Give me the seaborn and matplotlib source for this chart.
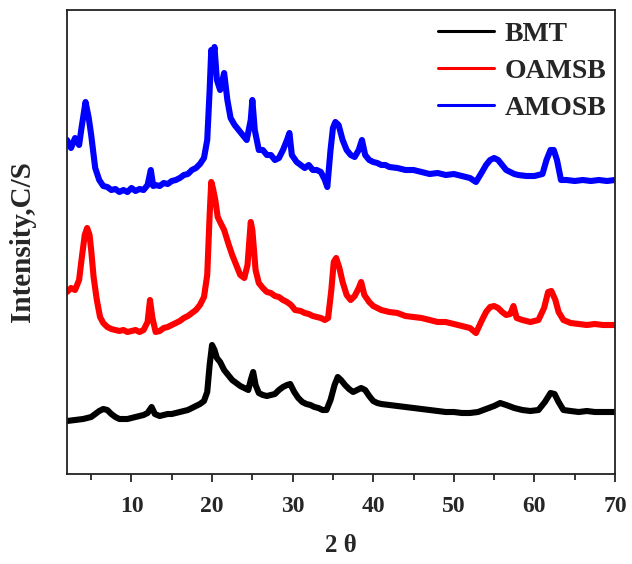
import matplotlib
matplotlib.use("Agg")
import matplotlib.pyplot as plt
import seaborn as sns
import pandas as pd
from matplotlib.ticker import MultipleLocator, NullLocator
from matplotlib.lines import Line2D

# ---- data (intensity in arbitrary units) ----
amosb_x = [2.0, 2.5, 3.0, 3.5, 3.8, 4.3, 4.7, 5.0, 5.5, 6.0, 6.5, 7.0, 7.5, 8.0, 8.5, 9.0, 9.5, 10.0,
           10.5, 11.0, 11.5, 12.0, 12.4, 12.7, 13.0, 13.5, 14.0, 14.5, 15.0, 15.5, 16.0, 16.5, 17.0,
           17.5, 18.0, 18.5, 19.0, 19.4, 19.7, 19.9, 20.1, 20.3, 20.6, 21.0, 21.5, 21.9, 22.3, 22.8,
           23.3, 23.8, 24.3, 24.8, 25.0, 25.3, 25.8, 26.3, 26.8, 27.3, 27.8, 28.3, 28.8, 29.3, 29.6,
           29.9, 30.5, 31.0, 31.5, 32.0, 32.5, 33.0, 33.5, 34.0, 34.3, 34.7, 35.0, 35.3, 35.7, 36.2,
           36.7, 37.2, 37.7, 38.2, 38.6, 39.0, 39.5, 40.0, 40.5, 41.0, 41.5, 42, 43, 44, 45, 46, 47,
           48, 49, 50, 51, 52, 52.75, 53.5, 54.0, 54.5, 55.0, 55.5, 56.0, 56.5, 57.0, 57.5, 58.0,
           59.0, 60.0, 61.0, 61.5, 62.0, 62.4, 62.8, 63.3, 64, 65, 66, 67, 68, 69, 70]
amosb_px = [140, 148, 138, 145, 128, 102, 118, 135, 168, 180, 186, 187, 190, 189, 192, 190, 192, 188,
            191, 189, 190, 185, 170, 186, 185, 186, 183, 184, 181, 180, 178, 175, 174,
            170, 168, 164, 158, 140, 90, 50, 58, 47, 80, 90, 73, 100, 118, 125,
            130, 135, 140, 120, 100, 130, 150, 150, 155, 155, 160, 158, 150, 140, 133,
            155, 162, 165, 168, 165, 170, 170, 172, 180, 187, 150, 128, 122, 125, 140,
            150, 155, 157, 150, 140, 155, 160, 162, 163, 165, 165, 167, 168, 170, 170, 172, 174,
            173, 175, 174, 176, 178, 182, 172, 165, 160, 158, 160, 165, 170, 172, 174, 175,
            176, 176, 174, 160, 150, 150, 160, 180, 180, 181, 180, 181, 180, 181, 180]

oamsb_x = [2.0, 2.5, 3.0, 3.5, 3.8, 4.2, 4.5, 4.8, 5.0, 5.3, 5.7, 6.1, 6.5, 7.0, 7.5, 8.0, 8.5, 9.0,
           9.5, 10.0, 10.5, 11.0, 11.5, 12.0, 12.3, 12.6, 13.0, 13.5, 14.0, 14.5, 15.0, 15.5, 16.0,
           16.5, 17.0, 17.5, 18.0, 18.5, 19.0, 19.4, 19.7, 19.9, 20.1, 20.4, 20.7, 21.0, 21.5, 22.0,
           22.5, 23.0, 23.5, 24.0, 24.4, 24.8, 25.0, 25.4, 25.8, 26.3, 26.8, 27.3, 27.8, 28.3, 28.8,
           29.3, 29.8, 30.3, 31.0, 31.5, 32.0, 32.5, 33.0, 33.5, 34.0, 34.4, 34.8, 35.1, 35.4, 35.8,
           36.2, 36.7, 37.2, 37.7, 38.2, 38.5, 38.9, 39.5, 40.0, 40.5, 41, 42, 43, 44, 45, 46, 47,
           48, 49, 50, 51, 52, 52.75, 53.5, 54.0, 54.5, 55.0, 55.5, 56.0, 56.5, 57.0, 57.4, 57.8,
           58.5, 59.5, 60.5, 61.2, 61.7, 62.1, 62.6, 63.0, 63.6, 64.5, 65.5, 66.5, 67.5, 68.5, 69.5, 70]
oamsb_px = [292, 288, 290, 280, 260, 235, 228, 235, 250, 277, 300, 317, 323, 327, 329, 330, 331, 330,
            332, 331, 330, 332, 330, 322, 300, 318, 332, 331, 328, 327, 325, 323, 321,
            318, 316, 313, 310, 305, 297, 275, 215, 182, 188, 200, 217, 222, 230, 243,
            255, 265, 275, 278, 265, 222, 230, 270, 283, 288, 292, 293, 296, 297, 300,
            302, 305, 310, 311, 313, 314, 316, 317, 318, 320, 318, 290, 262, 258, 268,
            282, 295, 300, 296, 288, 282, 295, 302, 306, 308, 310, 312, 313, 316, 317, 318, 320,
            322, 322, 324, 326, 328, 333, 320, 312, 307, 306, 308, 312, 315, 314, 306, 318,
            320, 322, 320, 308, 292, 291, 300, 312, 320, 323, 324, 325, 324, 325, 325, 325]

bmt_x = [2.0, 3.0, 4.0, 5.0, 5.5, 6.0, 6.5, 7.0, 7.5, 8.0, 8.5, 9.0, 9.5, 10.0, 10.5, 11.0, 11.5,
         12.0, 12.5, 12.9, 13.5, 14.0, 14.5, 15.0, 15.5, 16.0, 16.5, 17.0, 17.5, 18.0, 18.5, 19.0,
         19.4, 19.7, 20.0, 20.3, 20.6, 21.0, 21.5, 22.0, 22.5, 23.0, 23.5, 24.0, 24.5, 24.8, 25.1,
         25.4, 25.8, 26.3, 26.8, 27.3, 27.8, 28.3, 28.8, 29.3, 29.7, 30.2, 30.7, 31.2, 31.7, 32.2,
         32.7, 33.2, 33.7, 34.2, 34.7, 35.2, 35.6, 36.0, 36.5, 37.0, 37.5, 38.0, 38.5, 39.0, 39.5,
         40.0, 40.5, 41, 42, 43, 44, 45, 46, 47, 48, 49, 50, 51, 52, 53, 54, 55, 55.75, 56.5, 57.5,
         58.5, 59.5, 60.5, 61.3, 62.0, 62.5, 63.0, 63.6, 64.5, 65.5, 66.5, 67.5, 68.5, 69.5, 70]
bmt_px = [421, 420, 419, 417, 414, 411, 409, 410, 414, 417, 419, 419, 419, 418, 417, 416, 415,
          413, 407, 414, 416, 415, 414, 414, 413, 412, 411, 410, 408, 406, 404, 401,
          392, 365, 345, 350, 358, 362, 370, 375, 380, 383, 386, 388, 390, 380, 372,
          385, 393, 395, 396, 395, 394, 390, 387, 385, 384, 392, 398, 402, 404, 405,
          407, 408, 410, 410, 400, 385, 377, 380, 385, 389, 392, 390, 388, 390, 396,
          401, 403, 404, 405, 406, 407, 408, 409, 410, 411, 412, 412, 413, 413, 412, 409, 406, 403, 405, 408,
          410, 411, 410, 402, 393, 394, 402, 410, 411, 412, 411, 412, 412, 412, 412]

series_names = ["BMT", "OAMSB", "AMOSB"]
series_colors = ["#000000", "#ff0000", "#0000ff"]
x_ticks = [10, 20, 30, 40, 50, 60, 70]

BASE = 474  # picture rows were read relative to the axis bottom

frames = []
for name, xs, ps in [("BMT", bmt_x, bmt_px), ("OAMSB", oamsb_x, oamsb_px), ("AMOSB", amosb_x, amosb_px)]:
    frames.append(pd.DataFrame({"two_theta": xs, "intensity": [BASE - p for p in ps], "sample": name}))
df = pd.concat(frames, ignore_index=True)

sns.set_style("white")
plt.rcParams["font.family"] = ["Liberation Serif", "DejaVu Serif"]
plt.rcParams["font.weight"] = "bold"

fig = plt.figure(figsize=(6.32, 5.64), dpi=100)
ax = fig.add_axes([67 / 632, 1 - 474 / 564, (615 - 67) / 632, (474 - 10) / 564])

sns.lineplot(data=df, x="two_theta", y="intensity", hue="sample", hue_order=series_names,
             palette=series_colors, sort=False, estimator=None, linewidth=4.4, ax=ax, legend=False)

ax.set_xlim(2, 70)
ax.set_ylim(0, 464)
ax.xaxis.set_minor_locator(MultipleLocator(5))
ax.yaxis.set_major_locator(NullLocator())
ax.set_xticks(x_ticks)
ax.tick_params(axis="x", which="major", direction="out", length=6, width=1.3, bottom=True,
               labelsize=17, pad=10)
ax.tick_params(axis="x", which="minor", direction="out", length=4, width=1.3, bottom=True)
for lbl in ax.get_xticklabels():
    lbl.set_fontweight("bold")
for s in ax.spines.values():
    s.set_color("#222222")
    s.set_linewidth(1.3)

ax.set_xlabel("2 θ", fontsize=18, fontweight="bold", labelpad=12)
ax.set_ylabel("Intensity,C/S", fontsize=21, fontweight="bold", labelpad=22)

handles = [Line2D([0], [0], color=c, lw=2.2) for c in series_colors]
ax.legend(handles, series_names, loc="upper right", frameon=False,
          prop={"family": "Liberation Serif", "weight": "bold", "size": 20},
          handlelength=2.0, handletextpad=0.4, labelspacing=0.42,
          bbox_to_anchor=(1.03, 1.03))

fig.savefig("out.png", dpi=100)
